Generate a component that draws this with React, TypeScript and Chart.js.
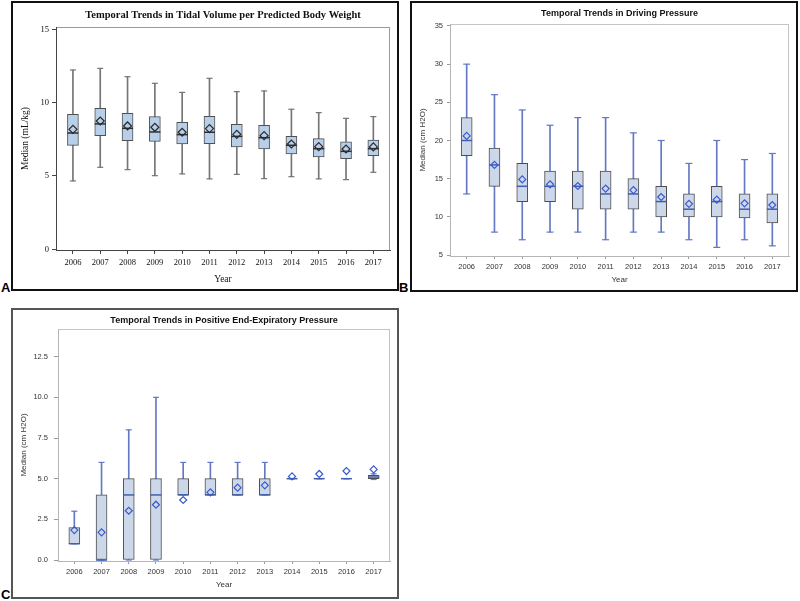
import React, { useEffect, useRef } from 'react';
import { Chart, registerables } from 'chart.js';
Chart.register(...registerables);

const years = ['2006', '2007', '2008', '2009', '2010', '2011', '2012', '2013', '2014', '2015', '2016', '2017'];

// Panel A: Tidal volume per predicted body weight (mL/kg)
const tvMin = [4.66, 5.59, 5.43, 5.02, 5.14, 4.8, 5.11, 4.82, 4.95, 4.8, 4.75, 5.25];
const tvQ1 = [7.09, 7.75, 7.41, 7.36, 7.18, 7.2, 6.98, 6.84, 6.5, 6.3, 6.18, 6.39];
const tvMedian = [7.93, 8.55, 8.25, 8.0, 7.82, 7.98, 7.7, 7.61, 7.09, 6.86, 6.68, 6.86];
const tvQ3 = [9.2, 9.61, 9.27, 9.05, 8.66, 9.07, 8.52, 8.45, 7.7, 7.55, 7.32, 7.45];
const tvMax = [12.23, 12.34, 11.77, 11.32, 10.7, 11.66, 10.75, 10.8, 9.55, 9.32, 8.93, 9.05];
const tvMean = [8.18, 8.75, 8.41, 8.32, 7.98, 8.23, 7.84, 7.75, 7.18, 7.0, 6.84, 6.98];
const tvTicks = [0, 5, 10, 15];
const tvTickLabels = ['0', '5', '10', '15'];

// Panel B: Driving pressure (cm H2O)
const dpMin = [13, 8, 7, 8, 8, 7, 8, 8, 7, 6, 7, 6.2];
const dpQ1 = [18, 14, 12, 12, 11, 11, 11, 10, 10, 10, 9.85, 9.2];
const dpMedian = [20, 16.8, 14, 14, 14, 13, 13, 12, 11, 12, 11, 11];
const dpQ3 = [23, 19, 17, 16, 16, 16, 15, 14, 13, 14, 13, 13];
const dpMax = [30, 26, 24, 22, 23, 23, 21, 20, 17, 20, 17.5, 18.3];
const dpMean = [20.6, 16.8, 14.9, 14.26, 14.04, 13.7, 13.5, 12.6, 11.7, 12.25, 11.77, 11.55];
const dpTicks = [5, 10, 15, 20, 25, 30, 35];
const dpTickLabels = ['5', '10', '15', '20', '25', '30', '35'];

// Panel C: PEEP (cm H2O)
const pepMin = [1, 0, 0, 0, 4, 4, 4, 4, 5, 5, 5, 4.95];
const pepQ1 = [1, 0, 0, 0, 4, 4, 4, 4, 5, 5, 5, 5];
const pepMedian = [1, 0, 4, 4, 4, 4, 4, 4, 5, 5, 5, 5.1];
const pepQ3 = [2, 4, 5, 5, 5, 5, 5, 5, 5, 5, 5, 5.2];
const pepMax = [3, 6, 8, 10, 6, 6, 6, 6, 5, 5, 5, 5.3];
const pepMean = [1.84, 1.7, 3.03, 3.4, 3.69, 4.16, 4.45, 4.59, 5.14, 5.29, 5.47, 5.57];
const pepTicks = [0, 2.5, 5, 7.5, 10, 12.5];
const pepTickLabels = ['0.0', '2.5', '5.0', '7.5', '10.0', '12.5'];

const plotFrame = {
  id: 'plotFrame',
  beforeDraw(chart: any, _args: any, opts: any) {
    const { ctx, chartArea: a } = chart;
    ctx.save();
    ctx.strokeStyle = opts.color || '#999';
    ctx.lineWidth = 1;
    ctx.strokeRect(Math.round(a.left) + 0.5, Math.round(a.top) + 0.5, Math.round(a.right - a.left) - 1, Math.round(a.bottom - a.top));
    ctx.restore();
  },
};

function buildConfig(p: any) {
  const pts = (arr: number[]) => arr.map((y, i) => ({ x: i, y }));
  const rng = (lo: number[], hi: number[]) => lo.map((v, i) => ({ x: i, y: [v, hi[i]] }));
  const tickFont = { family: p.family, size: p.tickSize };
  const axTitleFont = { family: p.family, size: p.axTitleSize };
  return {
    type: 'bar',
    data: {
      datasets: [
        { type: 'bar', data: rng(p.min, p.max), backgroundColor: p.whisker, borderWidth: 0, barThickness: 1, grouped: false, order: 6 },
        { type: 'bar', data: rng(p.q1, p.q3), backgroundColor: p.fill, borderColor: p.border, borderWidth: 1, borderSkipped: false, barThickness: p.boxW, grouped: false, order: 5 },
        { type: 'line', data: pts(p.max), showLine: false, pointStyle: 'line', pointRadius: p.capR, pointBorderColor: p.whisker, pointBorderWidth: 1.2, order: 4 },
        { type: 'line', data: pts(p.min), showLine: false, pointStyle: 'line', pointRadius: p.capR, pointBorderColor: p.whisker, pointBorderWidth: 1.2, order: 3 },
        { type: 'line', data: pts(p.median), showLine: false, pointStyle: 'line', pointRadius: p.boxW / 2, pointBorderColor: p.medianColor, pointBorderWidth: 1.5, order: 2 },
        { type: 'line', data: pts(p.mean), showLine: false, pointStyle: 'rectRot', pointRadius: p.meanR, pointBackgroundColor: 'rgba(0,0,0,0)', pointBorderColor: p.meanColor, pointBorderWidth: 1.2, order: 1 },
      ],
    },
    options: {
      animation: false,
      responsive: false,
      events: [],
      layout: { padding: { left: 0, right: p.padRight, top: 0, bottom: 0 } },
      plugins: {
        legend: { display: false },
        tooltip: { enabled: false },
        title: {
          display: true,
          text: p.title,
          fullSize: false,
          color: p.titleColor,
          font: { family: p.family, size: p.titleSize, weight: 'bold' },
          padding: { top: p.titlePadTop, bottom: p.titlePadBottom },
        },
        plotFrame: { color: p.frameColor },
      },
      scales: {
        x: {
          type: 'linear',
          min: p.xMin,
          max: p.xMax,
          offset: false,
          grid: { display: true, drawOnChartArea: false, drawTicks: true, tickLength: p.xTickLen, color: p.tickColor, offset: false },
          border: { display: true, color: p.axisColor },
          afterBuildTicks: (s: any) => { s.ticks = years.map((_, i) => ({ value: i })); },
          afterFit: (s: any) => { s.height = p.xAxisH; },
          ticks: { autoSkip: false, maxRotation: 0, padding: p.xTickPad, color: p.labelColor, font: tickFont, callback: (_v: any, i: number) => years[i] },
          title: { display: true, text: 'Year', color: p.labelColor, font: axTitleFont, padding: { top: 0, bottom: p.xTitlePad } },
        },
        y: {
          type: 'linear',
          min: p.yMin,
          max: p.yMax,
          grid: { display: true, drawOnChartArea: false, drawTicks: true, tickLength: p.yTickLen, color: p.tickColor },
          border: { display: true, color: p.axisColor },
          afterBuildTicks: (s: any) => { s.ticks = p.yTicks.map((v: number) => ({ value: v })); },
          afterFit: (s: any) => { s.width = p.yAxisW; },
          ticks: { autoSkip: false, padding: p.yTickPad, color: p.labelColor, font: tickFont, callback: (_v: any, i: number) => p.yTickLabels[i] },
          title: { display: true, text: p.yTitle, color: p.labelColor, font: axTitleFont, padding: { top: p.yTitlePad, bottom: 0 } },
        },
      },
    },
    plugins: [plotFrame],
  };
}

const specA = {
  title: 'Temporal Trends in Tidal Volume per Predicted Body Weight', yTitle: 'Median (mL/kg)',
  min: tvMin, q1: tvQ1, median: tvMedian, q3: tvQ3, max: tvMax, mean: tvMean,
  yTicks: tvTicks, yTickLabels: tvTickLabels,
  family: '"Liberation Serif", "Times New Roman", serif', titleSize: 10.5, tickSize: 8.5, axTitleSize: 9.5,
  titleColor: '#111', labelColor: '#111', tickColor: '#444', axisColor: '#444', frameColor: '#9a9a9a',
  fill: '#b8cfe9', border: '#505050', whisker: '#757575', medianColor: '#2e2e2e', meanColor: '#2a2a2a',
  boxW: 11, capR: 3, meanR: 4,
  xMin: -0.62, xMax: 11.61, yMin: -0.05, yMax: 15.16,
  padRight: 6, yAxisW: 43, xAxisH: 39,
  titlePadTop: 5.7, titlePadBottom: 5.7,
  xTickLen: 4, xTickPad: 3.9, xTitlePad: 4.3,
  yTickLen: 4, yTickPad: 3, yTitlePad: 6.3,
};

const specB = {
  title: 'Temporal Trends in Driving Pressure', yTitle: 'Median (cm H2O)',
  min: dpMin, q1: dpQ1, median: dpMedian, q3: dpQ3, max: dpMax, mean: dpMean,
  yTicks: dpTicks, yTickLabels: dpTickLabels,
  family: '"Liberation Sans", Arial, sans-serif', titleSize: 9, tickSize: 7.5, axTitleSize: 8,
  titleColor: '#111', labelColor: '#333', tickColor: '#999', axisColor: '#b5b5b5', frameColor: '#c4c4c4',
  fill: '#ccd8ea', border: '#4d4d4d', whisker: '#6478c4', medianColor: '#3f5fae', meanColor: '#3a5ad0',
  boxW: 11, capR: 3.5, meanR: 3.5,
  xMin: -0.6, xMax: 11.6, yMin: 4.87, yMax: 35.26,
  padRight: 6, yAxisW: 38, xAxisH: 34,
  titlePadTop: 5.6, titlePadBottom: 4.6,
  xTickLen: 3, xTickPad: 3.2, xTitlePad: 5.9,
  yTickLen: 3, yTickPad: 4, yTitlePad: 6.2,
};

const specC = {
  title: 'Temporal Trends in Positive End-Expiratory Pressure', yTitle: 'Median (cm H2O)',
  min: pepMin, q1: pepQ1, median: pepMedian, q3: pepQ3, max: pepMax, mean: pepMean,
  yTicks: pepTicks, yTickLabels: pepTickLabels,
  family: '"Liberation Sans", Arial, sans-serif', titleSize: 9, tickSize: 7.5, axTitleSize: 8,
  titleColor: '#111', labelColor: '#333', tickColor: '#999', axisColor: '#b5b5b5', frameColor: '#c4c4c4',
  fill: '#ccd8ea', border: '#4d4d4d', whisker: '#6478c4', medianColor: '#3f5fae', meanColor: '#3a5ad0',
  boxW: 11, capR: 3, meanR: 3.5,
  xMin: -0.6, xMax: 11.6, yMin: -0.06, yMax: 14.2,
  padRight: 6, yAxisW: 45, xAxisH: 36,
  titlePadTop: 5.6, titlePadBottom: 2.6,
  xTickLen: 3, xTickPad: 3.5, xTitlePad: 7.2,
  yTickLen: 4, yTickPad: 6, yTitlePad: 6.2,
};

function BoxPanel({ spec, left, top, width, height }: any) {
  const ref = useRef<HTMLCanvasElement>(null);
  useEffect(() => {
    if (!ref.current) return;
    const chart = new Chart(ref.current, buildConfig(spec) as any);
    return () => chart.destroy();
  }, [spec]);
  return (
    <canvas
      ref={ref}
      width={width}
      height={height}
      style={{ position: 'absolute', left, top, width, height }}
    />
  );
}

const frame = (left: number, top: number, w: number, h: number, color: string) => ({
  position: 'absolute' as const, left, top, width: w, height: h, boxSizing: 'border-box' as const,
  border: `2px solid ${color}`,
});

const letter = (left: number, top: number) => ({
  position: 'absolute' as const, left, top, font: 'bold 13px "Liberation Sans", Arial, sans-serif', lineHeight: '13px', color: '#000',
});

export default function App() {
  return (
    <div style={{ position: 'fixed', left: 0, top: 0, width: 800, height: 601, background: '#fff', overflow: 'hidden' }}>
      <div style={frame(11, 1, 388, 290, '#111')} />
      <div style={frame(410, 1, 388, 291, '#111')} />
      <div style={frame(11, 308, 388, 291, '#555')} />
      <BoxPanel spec={specA} left={13} top={3} width={384} height={286} />
      <BoxPanel spec={specB} left={412} top={3} width={384} height={287} />
      <BoxPanel spec={specC} left={13} top={310} width={384} height={287} />
      <div style={letter(1, 281)}>A</div>
      <div style={letter(399, 281)}>B</div>
      <div style={letter(1, 588)}>C</div>
    </div>
  );
}
